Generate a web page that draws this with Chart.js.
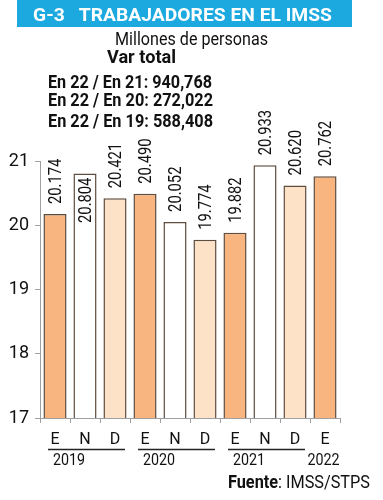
<!DOCTYPE html>
<html><head><meta charset="utf-8">
<script src="https://cdn.jsdelivr.net/npm/chart.js@4/dist/chart.umd.min.js"></script>
<style>
html,body{margin:0;padding:0;background:#fff;}
#wrap{position:relative;width:383px;height:500px;overflow:hidden;font-family:Roboto,sans-serif;color:#111;}
#c{position:absolute;left:0;top:0;}
.t{position:absolute;white-space:nowrap;display:inline-block;transform-origin:0 0;}
#banner{position:absolute;left:17px;top:0;width:335px;height:27px;background:#1ba9e0;}
</style></head>
<body><div id="wrap">
<div id="banner"></div>
<canvas id="c" width="383" height="500"></canvas>
<div class="t" data-w="299" style="left:33px;top:5px;color:#fff;font-weight:bold;font-size:19px;line-height:19px;">G-3&nbsp;&nbsp; TRABAJADORES EN EL IMSS</div>
<div class="t" data-w="153" style="left:115px;top:30px;font-size:18px;line-height:18px;">Millones de personas</div>
<div class="t" data-w="69" style="left:107px;top:48px;font-weight:bold;font-size:18px;line-height:18px;">Var total</div>
<div class="t" data-w="164" style="left:48px;top:73px;font-weight:bold;font-size:18px;line-height:18px;">En 22 / En 21: 940,768</div>
<div class="t" data-w="165" style="left:48px;top:91px;font-weight:bold;font-size:18px;line-height:18px;">En 22 / En 20: 272,022</div>
<div class="t" data-w="165" style="left:48px;top:112px;font-weight:bold;font-size:18px;line-height:18px;">En 22 / En 19: 588,408</div>
<div class="t" data-w="142" style="left:228px;top:473px;font-size:18px;line-height:18px;"><b>Fuente</b>: IMSS/STPS</div>
</div>
<script>
document.querySelectorAll('.t[data-w]').forEach(el=>{
  const w = el.getBoundingClientRect().width;
  el.style.transform = 'scaleX(' + (parseFloat(el.dataset.w)/w) + ')';
});
const months = ["E","N","D","E","N","D","E","N","D","E"];
const years = ["2019","2020","2021","2022"];
const yearStart = [0,3,6,9];
const yearEnd = [2,5,8,9];
const values = [20.174,20.804,20.421,20.490,20.052,19.774,19.882,20.933,20.620,20.762];
const valueLabels = ["20.174","20.804","20.421","20.490","20.052","19.774","19.882","20.933","20.620","20.762"];
const colorE = "#f8b57f", colorN = "#ffffff", colorD = "#fde2c8";
const colors = months.map(m => m==="E"?colorE:(m==="N"?colorN:colorD));
const FONT = 'Roboto,sans-serif';
const INSIDE = [1]; // label drawn inside the bar (would collide with text above)

const labelPlugin = {
  id:'labels',
  afterDatasetsDraw(chart){
    const ctx = chart.ctx;
    const meta = chart.getDatasetMeta(0);
    ctx.save();
    ctx.fillStyle = '#111';
    ctx.font = '18px ' + FONT;
    ctx.textBaseline = 'alphabetic';
    meta.data.forEach((bar,i)=>{
      ctx.save();
      const inside = INSIDE.includes(i);
      ctx.translate(bar.x, inside ? bar.y + 4 : bar.y - 10);
      ctx.rotate(-Math.PI/2);
      ctx.scale(0.82, 1);
      ctx.textAlign = inside ? 'right' : 'left';
      ctx.fillText(valueLabels[i], 0, 6.4);
      ctx.restore();
    });
    // years
    const x = chart.scales.x;
    ctx.font = '17px ' + FONT;
    ctx.strokeStyle = '#222';
    ctx.lineWidth = 1.3;
    years.forEach((y,k)=>{
      const xs = x.getPixelForValue(yearStart[k]);
      const xe = x.getPixelForValue(yearEnd[k]);
      ctx.save();
      if (yearEnd[k] > yearStart[k]) {
        ctx.beginPath();
        ctx.moveTo(xs-7, 449.5);
        ctx.lineTo(xe+10, 449.5);
        ctx.stroke();
        ctx.translate(xs-2, 465);
        ctx.scale(0.84,1);
        ctx.textAlign='left';
        ctx.fillText(y, 0, 0);
      } else {
        ctx.translate(xs-1.5, 465);
        ctx.scale(0.84,1);
        ctx.textAlign='center';
        ctx.fillText(y, 0, 0);
      }
      ctx.restore();
    });
    ctx.restore();
  }
};

new Chart(document.getElementById('c'), {
  type:'bar',
  data:{labels:months, datasets:[{data:values, backgroundColor:colors, borderColor:'#5e4c3e', borderWidth:1.5, borderSkipped:false, barPercentage:0.77, categoryPercentage:1}]},
  options:{
    responsive:false, animation:false,
    layout:{padding:{left:0,right:43,top:161,bottom:0}},
    plugins:{legend:{display:false},tooltip:{enabled:false}},
    scales:{
      x:{
        offset:true,
        grid:{offset:true,drawOnChartArea:false,tickLength:5,color:'#a0a0a0',tickColor:'#a0a0a0'},
        border:{color:'#a0a0a0'},
        ticks:{color:'#111',font:{family:FONT,size:16},padding:7,maxRotation:0},
        afterFit(s){s.height=82;}
      },
      y:{
        min:17,max:21,
        grid:{drawOnChartArea:false,tickLength:5,color:'#a0a0a0',tickColor:'#a0a0a0'},
        border:{color:'#a0a0a0'},
        ticks:{stepSize:1,color:'#111',font:{family:FONT,size:18},padding:6},
        afterFit(s){s.width=40;}
      }
    }
  },
  plugins:[labelPlugin]
});
</script>
</body></html>
